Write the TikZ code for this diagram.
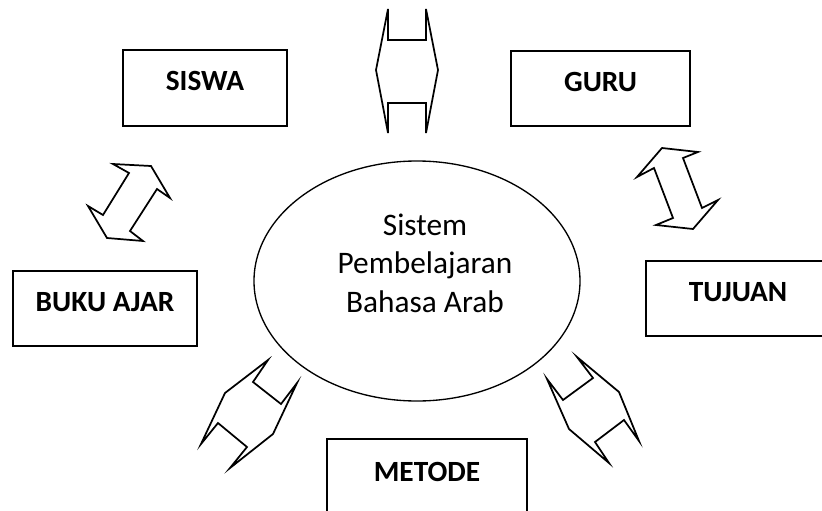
\documentclass[tikz,border=0pt]{standalone}
\usepackage{fontspec}
\setmainfont{Carlito}
\usetikzlibrary{shapes.geometric}

\tikzset{
  box/.style={draw, line width=1.4pt, rectangle, font=\bfseries\fontsize{22}{26}\selectfont,
    text height=15pt, text depth=11pt, inner sep=0pt},
  core/.style={draw, line width=1pt, ellipse, inner sep=0pt},
  coretext/.style={align=center, font=\fontsize{23.5}{29}\selectfont}
}
\tikzset{
  blockarrow/.style={draw, line width=1.3pt, line join=miter, fill=white}
}

\begin{document}
\begin{tikzpicture}[x=0.75pt, y=-0.75pt]
  \useasboundingbox (0,0) rectangle (822,511);
  \clip (0,0) rectangle (822,511);

  % central system
  \node[core, minimum width=326*0.75pt, minimum height=240*0.75pt] (sys) at (417,281) {};
  \node[coretext] (systext) at (425,263)
    {Sistem\\Pembelajaran\\Bahasa Arab};

  % components
  \node[box, minimum width=164*0.75pt, minimum height=76*0.75pt] (siswa) at (205,88) {SISWA};
  \node[box, minimum width=179*0.75pt, minimum height=75*0.75pt] (guru) at (600.5,88.5) {GURU};
  \node[box, minimum width=184*0.75pt, minimum height=75*0.75pt] (buku) at (105,308.5) {BUKU AJAR};
  \node[box, minimum width=184*0.75pt, minimum height=75*0.75pt] (tujuan) at (738,298.5) {TUJUAN};
  \node[box, minimum width=200*0.75pt, minimum height=80*0.75pt] (metode) at (427,479) {METODE};

  % two-way block arrows
  \draw[blockarrow] (388,9) -- (388,40) -- (426,40) -- (426,9) -- (438,70) -- (426,133)
    -- (426,103) -- (388,103) -- (388,133) -- (376,70) -- cycle;
  \draw[blockarrow] (113,164) -- (151,166) -- (170,198) -- (157,189) -- (130,231)
    -- (143,241) -- (107,238) -- (88,206) -- (103,215) -- (129,173) -- cycle;
  \draw[blockarrow] (662,148) -- (698,152) -- (683,158) -- (702,208) -- (718,200)
    -- (693,229) -- (656,225) -- (673,218) -- (654,168) -- (637,177) -- cycle;
  \draw[blockarrow] (268,360) -- (253,382) -- (281,404) -- (297,383) -- (273,434)
    -- (230,468) -- (247,447) -- (218,423) -- (201,444) -- (225,393) -- cycle;
  \draw[blockarrow] (577,357) -- (619,392) -- (639,441) -- (624,420) -- (595,442)
    -- (609,463) -- (569,429) -- (547,379) -- (563,400) -- (593,378) -- cycle;
\end{tikzpicture}
\end{document}
